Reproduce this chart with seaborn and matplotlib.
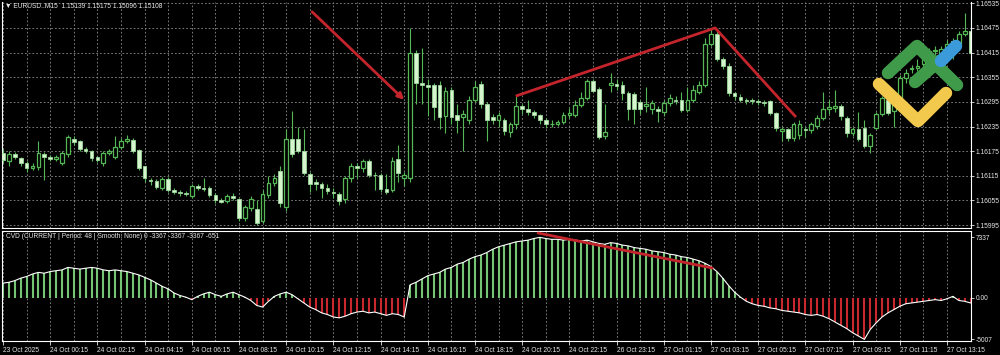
import numpy as np
import matplotlib
matplotlib.use("Agg")
import matplotlib.pyplot as plt
import seaborn as sns
from matplotlib.lines import Line2D

# ---------------- data (EURUSD M15 candles, 165 bars) ----------------
opens = [
    1.16170, 1.16150, 1.16168, 1.16158, 1.16146, 1.16134, 1.16136, 1.16168, 1.16160, 1.16156,
    1.16146, 1.16168, 1.16205, 1.16200, 1.16180, 1.16176, 1.16160, 1.16145, 1.16170, 1.16160,
    1.16185, 1.16200, 1.16203, 1.16178, 1.16138, 1.16105, 1.16102, 1.16085, 1.16108, 1.16080,
    1.16075, 1.16072, 1.16065, 1.16090, 1.16085, 1.16085, 1.16068, 1.16055, 1.16053, 1.16065,
    1.16058, 1.16012, 1.16036, 1.16034, 1.16005, 1.16068, 1.16097, 1.16126, 1.16040, 1.16205,
    1.16204, 1.16175, 1.16120, 1.16100, 1.16095, 1.16085, 1.16075, 1.16070, 1.16058, 1.16110,
    1.16138, 1.16134, 1.16150, 1.16118, 1.16118, 1.16082, 1.16080, 1.16155, 1.16110, 1.16110,
    1.16415, 1.16340, 1.16336, 1.16336, 1.16336, 1.16260, 1.16325, 1.16262, 1.16258, 1.16250,
    1.16300, 1.16338, 1.16290, 1.16258, 1.16250, 1.16250, 1.16222, 1.16240, 1.16285, 1.16278,
    1.16270, 1.16262, 1.16250, 1.16240, 1.16242, 1.16245, 1.16262, 1.16262, 1.16288, 1.16305,
    1.16345, 1.16327, 1.16212, 1.16336, 1.16338, 1.16335, 1.16317, 1.16315, 1.16295, 1.16285,
    1.16278, 1.16278, 1.16270, 1.16292, 1.16300, 1.16300, 1.16275, 1.16300, 1.16320, 1.16335,
    1.16437, 1.16461, 1.16400, 1.16383, 1.16317, 1.16308, 1.16300, 1.16300, 1.16297, 1.16295,
    1.16297, 1.16268, 1.16225, 1.16229, 1.16207, 1.16215, 1.16228, 1.16226, 1.16236, 1.16256,
    1.16278, 1.16280, 1.16285, 1.16256, 1.16219, 1.16229, 1.16232, 1.16188, 1.16232, 1.16266,
    1.16300, 1.16273, 1.16305, 1.16354, 1.16375, 1.16378, 1.16388, 1.16412, 1.16419, 1.16410,
    1.16424, 1.16444, 1.16437, 1.16461, 1.16468,
]
highs = [
    1.16180, 1.16175, 1.16172, 1.16162, 1.16150, 1.16145, 1.16200, 1.16172, 1.16165, 1.16166,
    1.16175, 1.16215, 1.16212, 1.16203, 1.16185, 1.16178, 1.16164, 1.16175, 1.16180, 1.16212,
    1.16208, 1.16215, 1.16208, 1.16180, 1.16140, 1.16110, 1.16108, 1.16112, 1.16112, 1.16085,
    1.16080, 1.16078, 1.16095, 1.16094, 1.16110, 1.16090, 1.16072, 1.16062, 1.16070, 1.16072,
    1.16062, 1.16045, 1.16065, 1.16055, 1.16080, 1.16115, 1.16120, 1.16140, 1.16230, 1.16273,
    1.16235, 1.16230, 1.16125, 1.16108, 1.16100, 1.16095, 1.16085, 1.16075, 1.16115, 1.16145,
    1.16145, 1.16155, 1.16155, 1.16125, 1.16122, 1.16120, 1.16160, 1.16190, 1.16125, 1.16475,
    1.16420, 1.16427, 1.16350, 1.16340, 1.16345, 1.16330, 1.16330, 1.16290, 1.16275, 1.16310,
    1.16345, 1.16345, 1.16295, 1.16265, 1.16270, 1.16255, 1.16245, 1.16310, 1.16290, 1.16300,
    1.16275, 1.16266, 1.16255, 1.16250, 1.16250, 1.16270, 1.16280, 1.16300, 1.16318, 1.16350,
    1.16350, 1.16330, 1.16290, 1.16365, 1.16350, 1.16345, 1.16322, 1.16320, 1.16300, 1.16330,
    1.16300, 1.16285, 1.16300, 1.16315, 1.16310, 1.16320, 1.16330, 1.16335, 1.16345, 1.16450,
    1.16475, 1.16470, 1.16405, 1.16390, 1.16320, 1.16315, 1.16305, 1.16305, 1.16302, 1.16300,
    1.16300, 1.16270, 1.16235, 1.16232, 1.16246, 1.16250, 1.16235, 1.16246, 1.16262, 1.16320,
    1.16300, 1.16325, 1.16290, 1.16260, 1.16235, 1.16270, 1.16250, 1.16220, 1.16270, 1.16310,
    1.16315, 1.16320, 1.16360, 1.16375, 1.16385, 1.16400, 1.16420, 1.16425, 1.16430, 1.16430,
    1.16445, 1.16450, 1.16468, 1.16512, 1.16510,
]
lows = [
    1.16145, 1.16140, 1.16155, 1.16140, 1.16125, 1.16128, 1.16130, 1.16105, 1.16150, 1.16150,
    1.16142, 1.16160, 1.16190, 1.16175, 1.16170, 1.16152, 1.16148, 1.16140, 1.16166, 1.16155,
    1.16180, 1.16194, 1.16170, 1.16130, 1.16100, 1.16092, 1.16082, 1.16080, 1.16075, 1.16070,
    1.16066, 1.16065, 1.16060, 1.16080, 1.16078, 1.16063, 1.16050, 1.16048, 1.16050, 1.16055,
    1.16005, 1.16005, 1.16030, 1.15995, 1.16000, 1.16060, 1.16090, 1.16040, 1.16030, 1.16160,
    1.16170, 1.16118, 1.16075, 1.16080, 1.16060, 1.16070, 1.16060, 1.16045, 1.16050, 1.16100,
    1.16110, 1.16125, 1.16112, 1.16080, 1.16075, 1.16070, 1.16075, 1.16100, 1.16090, 1.16100,
    1.16290, 1.16290, 1.16260, 1.16250, 1.16230, 1.16220, 1.16240, 1.16220, 1.16175, 1.16240,
    1.16295, 1.16280, 1.16200, 1.16240, 1.16235, 1.16215, 1.16210, 1.16230, 1.16265, 1.16262,
    1.16255, 1.16240, 1.16232, 1.16235, 1.16236, 1.16240, 1.16255, 1.16258, 1.16282, 1.16300,
    1.16318, 1.16205, 1.16205, 1.16320, 1.16325, 1.16300, 1.16250, 1.16240, 1.16265, 1.16270,
    1.16265, 1.16245, 1.16260, 1.16285, 1.16290, 1.16270, 1.16270, 1.16295, 1.16315, 1.16330,
    1.16430, 1.16395, 1.16375, 1.16310, 1.16300, 1.16295, 1.16290, 1.16290, 1.16288, 1.16285,
    1.16262, 1.16225, 1.16200, 1.16200, 1.16200, 1.16205, 1.16210, 1.16220, 1.16230, 1.16250,
    1.16265, 1.16270, 1.16250, 1.16210, 1.16212, 1.16200, 1.16183, 1.16171, 1.16228, 1.16260,
    1.16262, 1.16235, 1.16300, 1.16340, 1.16365, 1.16370, 1.16380, 1.16405, 1.16410, 1.16400,
    1.16420, 1.16400, 1.16420, 1.16455, 1.16410,
]
closes = [
    1.16153, 1.16168, 1.16160, 1.16146, 1.16134, 1.16140, 1.16170, 1.16162, 1.16156, 1.16160,
    1.16170, 1.16210, 1.16198, 1.16180, 1.16175, 1.16158, 1.16153, 1.16170, 1.16176, 1.16185,
    1.16200, 1.16205, 1.16175, 1.16135, 1.16110, 1.16102, 1.16088, 1.16108, 1.16080, 1.16075,
    1.16072, 1.16070, 1.16090, 1.16085, 1.16082, 1.16068, 1.16055, 1.16052, 1.16065, 1.16060,
    1.16012, 1.16040, 1.16058, 1.16000, 1.16070, 1.16097, 1.16110, 1.16048, 1.16205, 1.16168,
    1.16175, 1.16122, 1.16095, 1.16095, 1.16085, 1.16078, 1.16072, 1.16053, 1.16110, 1.16138,
    1.16134, 1.16150, 1.16118, 1.16116, 1.16082, 1.16075, 1.16150, 1.16122, 1.16118, 1.16415,
    1.16340, 1.16336, 1.16330, 1.16282, 1.16258, 1.16322, 1.16258, 1.16250, 1.16265, 1.16300,
    1.16332, 1.16290, 1.16250, 1.16250, 1.16262, 1.16224, 1.16240, 1.16285, 1.16278, 1.16270,
    1.16262, 1.16250, 1.16240, 1.16242, 1.16245, 1.16262, 1.16268, 1.16288, 1.16305, 1.16345,
    1.16322, 1.16210, 1.16222, 1.16340, 1.16334, 1.16317, 1.16278, 1.16278, 1.16278, 1.16290,
    1.16292, 1.16273, 1.16292, 1.16305, 1.16297, 1.16275, 1.16300, 1.16325, 1.16335, 1.16437,
    1.16461, 1.16400, 1.16383, 1.16317, 1.16310, 1.16300, 1.16297, 1.16297, 1.16295, 1.16292,
    1.16268, 1.16232, 1.16229, 1.16207, 1.16241, 1.16241, 1.16226, 1.16241, 1.16256, 1.16278,
    1.16283, 1.16285, 1.16261, 1.16219, 1.16229, 1.16205, 1.16188, 1.16215, 1.16266, 1.16305,
    1.16268, 1.16305, 1.16354, 1.16365, 1.16378, 1.16383, 1.16412, 1.16419, 1.16422, 1.16424,
    1.16437, 1.16415, 1.16461, 1.16468, 1.16415,
]
# Cumulative volume delta (lower panel)
cvd = [
    1800, 1900, 2100, 2400, 2600, 2900, 3100, 3000, 3200, 3300,
    3400, 3700, 3600, 3500, 3600, 3700, 3600, 3400, 3300, 3400,
    3300, 3200, 3000, 2800, 2500, 2200, 1800, 1400, 1100, 600,
    300, 100, -200, 200, 500, 700, 400, 200, 500, 700,
    400, 100, -300, -900, -1100, -400, 200, 500, 700, 400,
    -100, -600, -1100, -1400, -1800, -2000, -2300, -2400, -2200, -1900,
    -1700, -1600, -1800, -1700, -1900, -2100, -1900, -2000, -2300, 1600,
    1900, 2300, 2700, 2900, 3100, 3500, 3700, 4100, 4300, 4700,
    5000, 5200, 5500, 5900, 6200, 6400, 6600, 6800, 6900, 7000,
    7200, 7337, 7200, 7100, 7100, 7000, 7100, 7000, 6900, 7000,
    6800, 6600, 6500, 6700, 6600, 6400, 6300, 6100, 6000, 5900,
    5700, 5600, 5500, 5300, 5200, 5000, 4900, 4700, 4500, 4200,
    3800, 3200, 2400, 1500, 700, 100, -400, -700, -900, -1000,
    -1200, -1300, -1500, -1600, -1700, -1800, -2000, -2100, -2000, -2200,
    -2500, -2900, -3300, -3700, -4200, -4600, -5007, -3800, -3000, -2300,
    -1800, -1400, -1000, -700, -600, -500, -400, -300, -200, -300,
    -100, 200, -300, -400, -600,
]
price_ticks = [1.16535, 1.16475, 1.16415, 1.16355, 1.16295, 1.16235,
               1.16175, 1.16115, 1.16055, 1.15995]
cvd_ticks = [7337, 0, -5007]
cvd_tick_labels = ["7337", "0.00", "-5007"]
time_labels = ["23 Oct 2025", "24 Oct 00:15", "24 Oct 02:15", "24 Oct 04:15",
               "24 Oct 06:15", "24 Oct 08:15", "24 Oct 10:15", "24 Oct 12:15",
               "24 Oct 14:15", "24 Oct 16:15", "24 Oct 18:15", "24 Oct 20:15",
               "24 Oct 22:15", "26 Oct 23:15", "27 Oct 01:15", "27 Oct 03:15",
               "27 Oct 05:15", "27 Oct 07:15", "27 Oct 09:15", "27 Oct 11:15",
               "27 Oct 13:15"]
header = "\u25bc EURUSD..M15  1.15139 1.15175 1.15096 1.15108"
cvd_header = "CVD (CURRENT | Period: 48 | Smooth: None) 0 -3367 -3367 -3367 -651"

# ---------------- style ----------------
sns.set_theme(style="dark", rc={"axes.facecolor": "black", "figure.facecolor": "black",
                                "savefig.facecolor": "black"})
plt.rcParams['font.family'] = ['Liberation Sans', 'DejaVu Sans']

WICK = "#55b755"
BEAR_FILL = "#d6f5cf"
GRID = "#8f8f8f"
TXT = "#e6e6e6"
RED = "#c4252c"
FS = 4.8

W, H = 1000, 355
fig = plt.figure(figsize=(10, 3.55), dpi=100)


def fbox(x0, y0, x1, y1):
    return [x0 / W, 1 - y1 / H, (x1 - x0) / W, (y1 - y0) / H]


ax = fig.add_axes(fbox(2, 2, 971, 228))
ax2 = fig.add_axes(fbox(2, 231, 971, 341))

o = np.array(opens); h = np.array(highs); l = np.array(lows); c = np.array(closes)
n = len(o)
x = np.arange(n)
xmin, xmax = -0.17, 164.07

# ---------------- candles ----------------
ax.vlines(x, l, h, color=WICK, lw=0.8, zorder=2)
bull = c >= o
bottom = np.minimum(o, c)
height = np.maximum(np.abs(c - o), 0.000012)
ax.bar(x[bull], height[bull], bottom=bottom[bull], width=0.62, facecolor="black",
       edgecolor=WICK, linewidth=0.9, zorder=3)
ax.bar(x[~bull], height[~bull], bottom=bottom[~bull], width=0.62, facecolor=BEAR_FILL,
       edgecolor="#9bd89b", linewidth=0.6, zorder=3)

ax.set_xlim(xmin, xmax)
ax.set_ylim(1.15988, 1.16538)
ax.set_yticks(price_ticks)
ax.set_yticklabels([f"{p:.5f}" for p in price_ticks])
ax.yaxis.tick_right()
ax.set_xticks(np.arange(0, n, 4))
ax.set_xticklabels([])
ax.tick_params(axis="x", length=0)
ax.tick_params(axis="y", colors=TXT, labelsize=FS, length=2, width=0.6, pad=1.2,
               direction="out", right=True, left=False)
ax.grid(True, color=GRID, linestyle=(0, (2, 2.5)), linewidth=0.6)
for s in ["left", "right", "bottom"]:
    ax.spines[s].set_color("white"); ax.spines[s].set_linewidth(0.8); ax.spines[s].set_visible(True)
ax.spines["top"].set_visible(False)

# annotations (red trend lines)
ax.annotate("", xy=(68.0, 1.16300), xytext=(52.4, 1.16514),
            arrowprops=dict(arrowstyle="-|>", color=RED, lw=2.0, mutation_scale=9,
                            shrinkA=0, shrinkB=0), zorder=5)
ax.plot([86.9, 120.7, 134.4], [1.16309, 1.16475, 1.16258], color=RED, lw=2.0,
        solid_capstyle="butt", zorder=5)

# ---------------- CVD histogram ----------------
v = np.array(cvd)
pos = v >= 0
ax2.vlines(x[pos], 0, v[pos], color="#74c474", lw=1.5, zorder=2)
ax2.vlines(x[~pos], 0, v[~pos], color="#c8282e", lw=1.5, zorder=2)
sns.lineplot(x=x, y=v, ax=ax2, color="white", lw=0.8, zorder=3, legend=False)
ax2.plot([90.7, 120.2], [7865, 3630], color=RED, lw=2.0, zorder=5)

ax2.set_xlim(xmin, xmax)
ax2.set_ylim(-5203, 8107)
ax2.set_yticks(cvd_ticks)
ax2.set_yticklabels(cvd_tick_labels)
ax2.yaxis.tick_right()
ax2.set_xticks(np.arange(0, 161, 8))
ax2.set_xticklabels(time_labels, ha="left")
ax2.set_xticks(np.arange(4, n, 8), minor=True)
ax2.set_xlabel(""); ax2.set_ylabel("")
ax2.tick_params(axis="x", which="major", colors=TXT, labelsize=FS, length=3, width=0.6,
                pad=1.5, direction="out", bottom=True)
ax2.tick_params(axis="x", which="minor", length=0)
ax2.tick_params(axis="y", colors=TXT, labelsize=FS, length=2, width=0.6, pad=1.2,
                direction="out", right=True, left=False)
ax2.grid(True, axis="x", which="both", color=GRID, linestyle=(0, (2, 2.5)), linewidth=0.6)
ax2.grid(False, axis="y")
for s in ["left", "right", "bottom", "top"]:
    ax2.spines[s].set_color("white"); ax2.spines[s].set_linewidth(0.8); ax2.spines[s].set_visible(True)

# ---------------- header texts ----------------
fig.text(5 / W, 1 - 6 / H, header, color=TXT, fontsize=FS, va="center", ha="left")
fig.text(6 / W, 1 - 237 / H, cvd_header, color=TXT, fontsize=FS, va="center", ha="left")

# ---------------- watermark logo ----------------
def fline(pts, color, lw=9.0):
    xs = [p[0] / W for p in pts]
    ys = [1 - p[1] / H for p in pts]
    fig.add_artist(Line2D(xs, ys, color=color, lw=lw, solid_capstyle="round",
                          solid_joinstyle="round", transform=fig.transFigure, zorder=10))

fline([(879, 84), (918, 121), (946, 93)], "#f2c94c")
fline([(888, 73), (917, 46), (957, 85)], "#3f9b4a")
fline([(915, 82), (939, 61)], "#3f9b4a")
fline([(941, 61), (956, 46)], "#3b9ad9")

fig.savefig("out.png", dpi=100, facecolor="black")
